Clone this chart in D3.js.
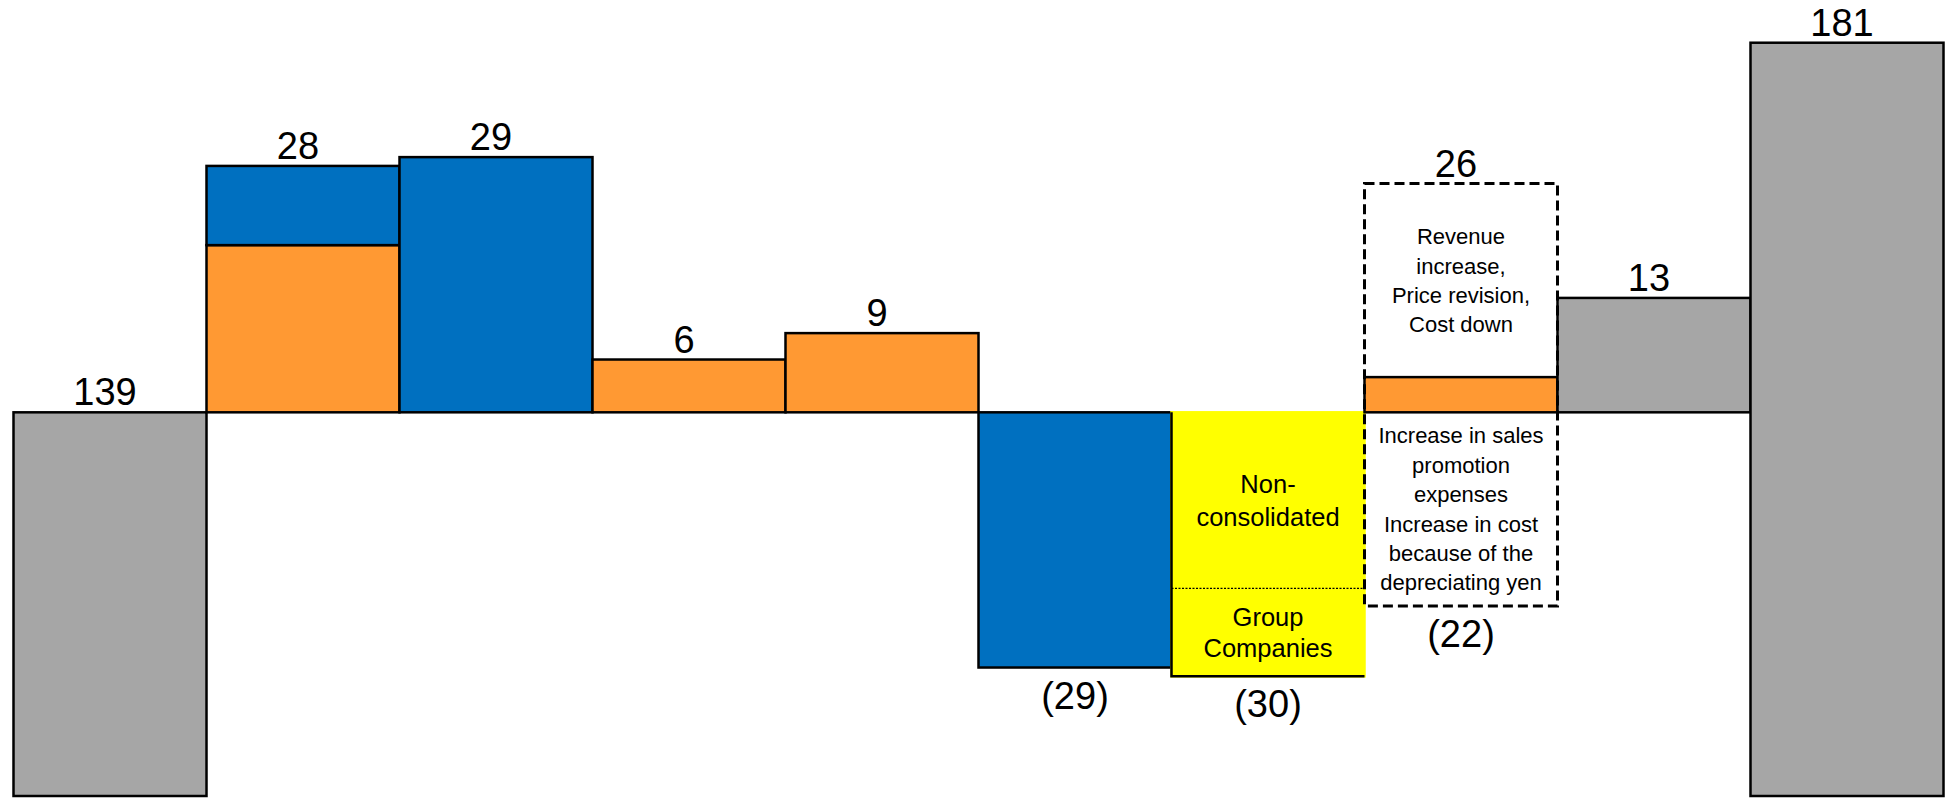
<!DOCTYPE html>
<html>
<head>
<meta charset="utf-8">
<script src="https://cdn.jsdelivr.net/npm/d3@7"></script>
<style>
  html, body { margin: 0; padding: 0; background: #fff; }
  svg { display: block; font-family: "Liberation Sans", Arial, Helvetica, sans-serif; }
</style>
</head>
<body>
<svg id="chart" width="1946" height="800"></svg>
<script>
// Bridge of operating income: opening total, factor changes, closing total
const categories      = ["opening", "f1", "f2", "f3", "f4", "f5", "f6", "f7", "f8", "closing"];
const totals          = [139, null, null, null, null, null, null, null, null, 181];
const orangeDelta     = [0, 19, 0, 6, 9, 0, 0, 0, 0, 0];
const blueDelta       = [0, 9, 29, 0, 0, -29, 0, 0, 0, 0];
const nonConsolidated = [0, 0, 0, 0, 0, 0, -20, 0, 0, 0];
const groupCompanies  = [0, 0, 0, 0, 0, 0, -10, 0, 0, 0];
const grossIncrease   = [0, 0, 0, 0, 0, 0, 0, 26, 0, 0];
const grossDecrease   = [0, 0, 0, 0, 0, 0, 0, -22, 0, 0];
const grayDelta       = [0, 0, 0, 0, 0, 0, 0, 0, 13, 0];
const axisDomain      = [95.4, 181];

const yellowNotes = [["Non-", "consolidated"], ["Group", "Companies"]];
const increaseNote = ["Revenue", "increase,", "Price revision,", "Cost down"];
const decreaseNote = ["Increase in sales", "promotion", "expenses", "Increase in cost", "because of the", "depreciating yen"];

const COLORS = { orange: "#FF9933", blue: "#0070C0", yellow: "#FFFF00", gray: "#A6A6A6" };

const svg = d3.select("#chart");
const x = d3.scaleBand().domain(categories).range([13.5, 1943.5]).padding(0);
const pxPerUnit = 8.8;
const y = d3.scaleLinear().domain(axisDomain)
  .range([796, 796 - (axisDomain[1] - axisDomain[0]) * pxPerUnit]);
const base = totals[0];

// Build stacked segments for each bar, positives upward and negatives downward from the opening level
const segments = [];
categories.forEach((c, i) => {
  if (totals[i] != null) {
    segments.push({ c, lo: axisDomain[0], hi: totals[i], color: COLORS.gray, kind: "total" });
    return;
  }
  let up = base, down = base;
  const net = grossIncrease[i] + grossDecrease[i];
  const parts = [
    [orangeDelta[i] + net, COLORS.orange, "orange"],
    [blueDelta[i], COLORS.blue, "blue"],
    [nonConsolidated[i], COLORS.yellow, "nonConsolidated"],
    [groupCompanies[i], COLORS.yellow, "groupCompanies"],
    [grayDelta[i], COLORS.gray, "gray"]
  ];
  parts.forEach(([v, color, kind]) => {
    if (v > 0) { segments.push({ c, lo: up, hi: up + v, color, kind }); up += v; }
    else if (v < 0) { segments.push({ c, lo: down + v, hi: down, color, kind }); down += v; }
  });
});

const isYellow = d => d.kind === "nonConsolidated" || d.kind === "groupCompanies";

svg.append("g").selectAll("rect").data(segments).join("rect")
  .attr("x", d => x(d.c))
  .attr("width", x.bandwidth())
  .attr("y", d => y(d.hi))
  .attr("height", d => y(d.lo) - y(d.hi))
  .attr("fill", d => d.color)
  .attr("stroke", d => isYellow(d) ? COLORS.yellow : "#000")
  .attr("stroke-width", 2.5);

// Outline of the yellow column: black left and bottom edges, dotted split between its parts
const yc = categories[nonConsolidated.findIndex(v => v !== 0)];
const yi = categories.indexOf(yc);
const yBottom = base + nonConsolidated[yi] + groupCompanies[yi];
svg.append("path")
  .attr("d", `M${x(yc)},${y(base)}V${y(yBottom)}H${x(yc) + x.bandwidth()}`)
  .attr("fill", "none").attr("stroke", "#000").attr("stroke-width", 2.5);
svg.append("line")
  .attr("x1", x(yc)).attr("x2", x(yc) + x.bandwidth())
  .attr("y1", y(base + nonConsolidated[yi])).attr("y2", y(base + nonConsolidated[yi]))
  .attr("stroke", "#000").attr("stroke-width", 1.2).attr("stroke-dasharray", "2,1.5");

// Dashed box showing gross increase and gross decrease of the netted factor
const gi = grossIncrease.findIndex(v => v !== 0);
const gc = categories[gi];
svg.append("rect")
  .attr("x", x(gc)).attr("width", x.bandwidth())
  .attr("y", y(base + grossIncrease[gi]))
  .attr("height", y(base + grossDecrease[gi]) - y(base + grossIncrease[gi]))
  .attr("fill", "none").attr("stroke", "#000").attr("stroke-width", 3)
  .attr("stroke-dasharray", "10,5");

// Multi-line notes centred inside a value range of a column
function note(lines, c, lo, hi, size, lineH) {
  const cy = (y(lo) + y(hi)) / 2;
  const cap = size * 0.716;
  const first = cy - (lines.length - 1) * lineH / 2 + cap / 2;
  const t = svg.append("text")
    .attr("text-anchor", "middle")
    .attr("font-size", size)
    .attr("fill", "#000");
  lines.forEach((s, k) => {
    t.append("tspan").attr("x", x(c) + x.bandwidth() / 2).attr("y", first + k * lineH).text(s);
  });
}
note(yellowNotes[0], yc, base + nonConsolidated[yi], base, 25.5, 33.3);
note(yellowNotes[1], yc, yBottom, base + nonConsolidated[yi], 25.5, 31.5);
note(increaseNote, gc, base + orangeDelta[gi] + grossIncrease[gi] + grossDecrease[gi], base + grossIncrease[gi], 22, 29.2);
note(decreaseNote, gc, base + grossDecrease[gi], base, 22, 29.4);

// Value labels
const fmt = v => v < 0 ? `(${-v})` : `${v}`;
const labels = [];
categories.forEach((c, i) => {
  if (totals[i] != null) { labels.push({ c, v: totals[i], at: totals[i] }); return; }
  if (grossIncrease[i] !== 0) {
    labels.push({ c, v: grossIncrease[i], at: base + grossIncrease[i] });
    labels.push({ c, v: grossDecrease[i], at: base + grossDecrease[i] });
    return;
  }
  const pos = [orangeDelta[i], blueDelta[i], grayDelta[i]].filter(v => v > 0);
  const neg = [blueDelta[i], nonConsolidated[i], groupCompanies[i]].filter(v => v < 0);
  if (pos.length) { const s = d3.sum(pos); labels.push({ c, v: s, at: base + s }); }
  if (neg.length) { const s = d3.sum(neg); labels.push({ c, v: s, at: base + s }); }
});

svg.append("g").selectAll("text").data(labels).join("text")
  .attr("text-anchor", "middle")
  .attr("font-size", 38)
  .attr("fill", "#000")
  .attr("x", d => x(d.c) + x.bandwidth() / 2 + (d.v > 0 ? -5 : 0))
  .attr("y", d => d.v > 0 ? y(d.at) - 7 : y(d.at) + 41)
  .text(d => fmt(d.v));
</script>
</body>
</html>
